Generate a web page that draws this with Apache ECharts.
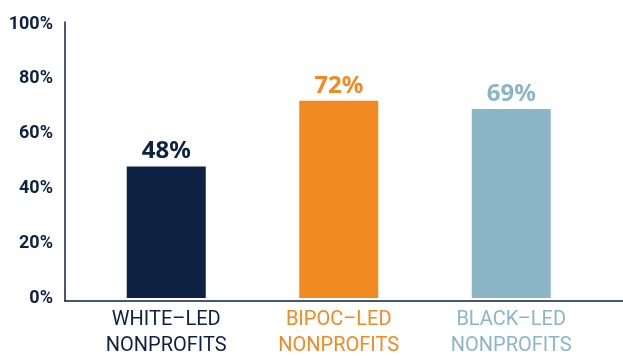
<!DOCTYPE html>
<html>
<head>
<meta charset="utf-8">
<script src="https://cdn.jsdelivr.net/npm/echarts@6/dist/echarts.min.js"></script>
<style>
  html, body { margin: 0; padding: 0; background: #ffffff; }
  #chart { width: 623px; height: 356px; }
</style>
</head>
<body>
<div id="chart"></div>
<script>
// Share of nonprofits by leadership group
const categories = ['WHITE–LED\nNONPROFITS', 'BIPOC–LED\nNONPROFITS', 'BLACK–LED\nNONPROFITS'];
const values = [48, 72, 69];
const barColors = ['#0d2142', '#f28a22', '#8db5c8'];
const yTicks = [0, 20, 40, 60, 80, 100];

const navy = '#0d2142';

// one rich style per category so each label takes its bar's colour
const richStyles = {};
barColors.forEach((c, i) => {
  richStyles['c' + i] = {
    color: c,
    fontFamily: 'Roboto',
    fontSize: 20,
    lineHeight: 26
  };
});

const chart = echarts.init(document.getElementById('chart'), null, { renderer: 'canvas' });

chart.setOption({
  animation: false,
  grid: [
    { left: 80, right: 25.5, top: 24, bottom: 56 },
    { left: 65, right: 0, top: 22, bottom: 55 }
  ],
  xAxis: [
    {
      type: 'category',
      gridIndex: 0,
      data: categories,
      axisLine: { show: false },
      axisTick: { show: false },
      axisLabel: {
        interval: 0,
        margin: 9,
        formatter: (v) => {
          const idx = categories.indexOf(v);
          return v.split('\n').map(line => '{c' + idx + '|' + line + '}').join('\n');
        },
        rich: richStyles
      }
    },
    {
      type: 'value',
      gridIndex: 1,
      min: 0, max: 1,
      axisLine: { show: true, lineStyle: { color: navy, width: 1.5 } },
      axisTick: { show: false },
      axisLabel: { show: false },
      splitLine: { show: false }
    }
  ],
  yAxis: [
    {
      type: 'value',
      gridIndex: 0,
      min: 0,
      max: 100,
      interval: 20,
      offset: 15,
      axisLine: { show: false },
      axisTick: { show: false },
      splitLine: { show: false },
      axisLabel: {
        margin: 12,
        fontFamily: 'Roboto',
        fontWeight: 'bold',
        fontSize: 18,
        color: navy,
        formatter: v => (yTicks.includes(v) ? v + '%' : '')
      }
    },
    {
      type: 'value',
      gridIndex: 1,
      min: 0, max: 1,
      axisLine: { show: true, lineStyle: { color: navy, width: 1.5 } },
      axisTick: { show: false },
      axisLabel: { show: false },
      splitLine: { show: false }
    }
  ],
  series: [
    {
      type: 'bar',
      xAxisIndex: 0,
      yAxisIndex: 0,
      barWidth: 79,
      data: values.map((v, i) => ({
        value: v,
        itemStyle: { color: barColors[i] },
        label: { color: barColors[i] }
      })),
      label: {
        show: true,
        position: 'top',
        distance: 3,
        fontFamily: 'Noto Sans',
        fontWeight: 'bold',
        fontSize: 24,
        formatter: p => p.value + '%'
      }
    }
  ]
});
</script>
</body>
</html>
